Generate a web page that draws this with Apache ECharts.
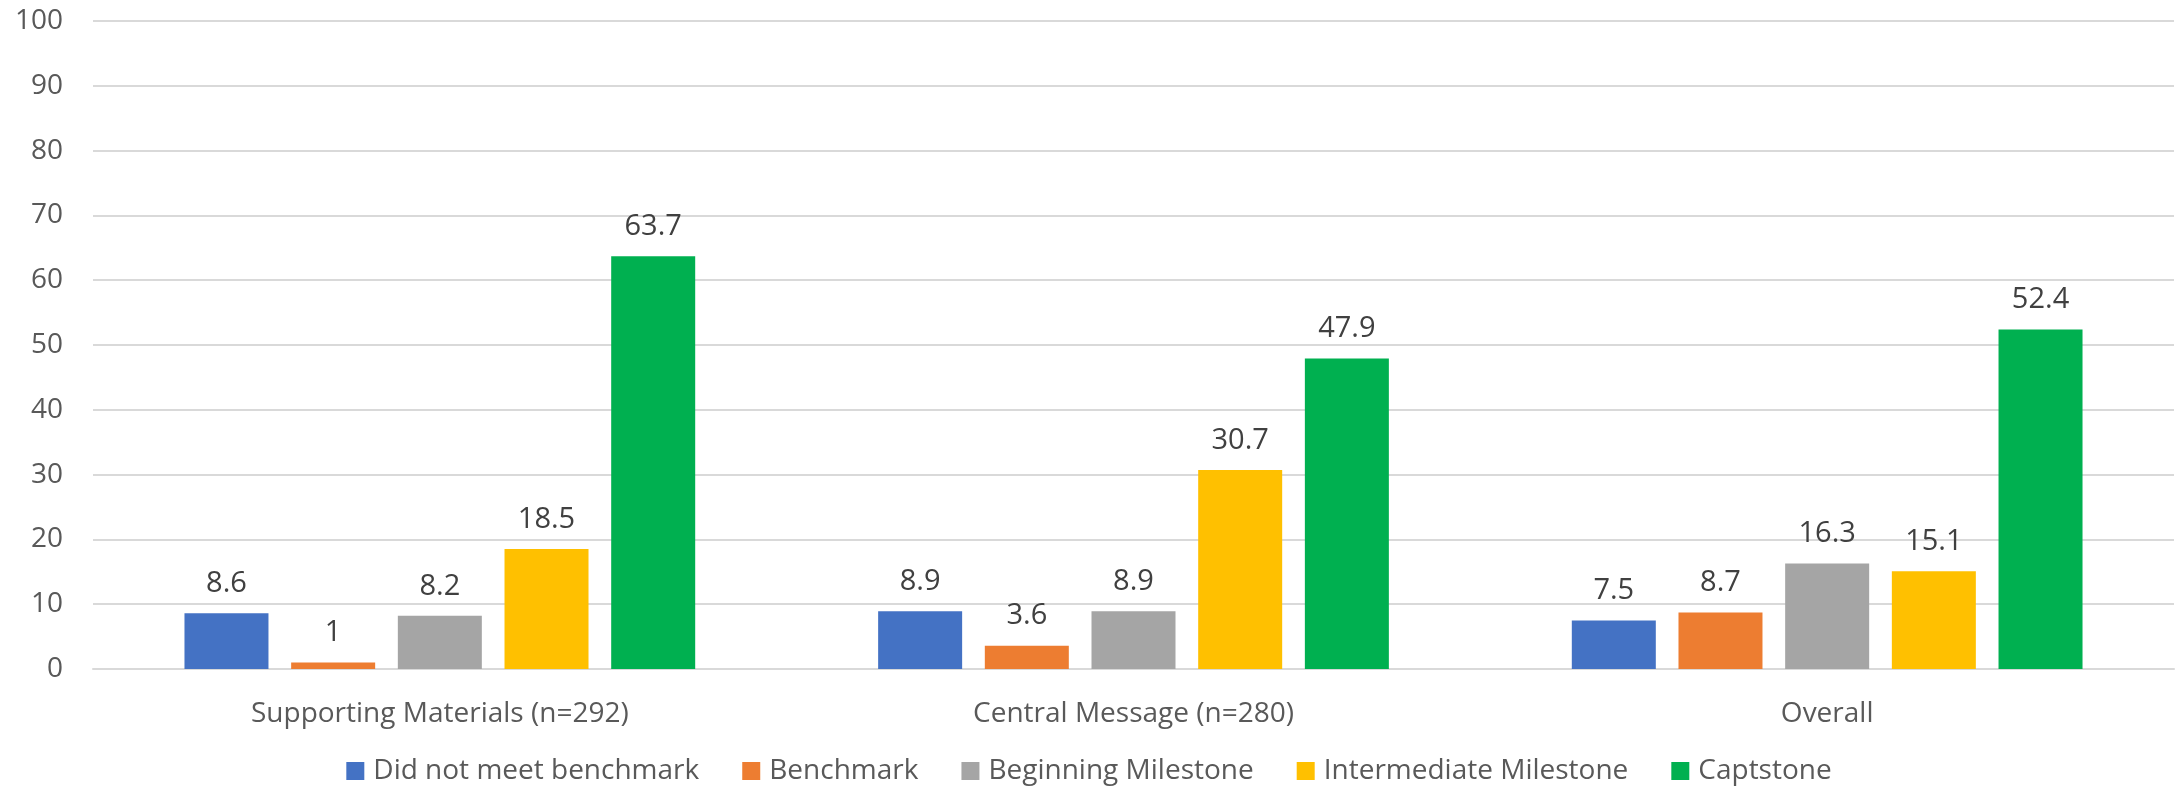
<!DOCTYPE html>
<html>
<head>
<meta charset="utf-8">
<script src="https://cdn.jsdelivr.net/npm/echarts@6/dist/echarts.min.js"></script>
<style>
  html, body { margin: 0; padding: 0; background: #fff; }
  #chart { width: 2178px; height: 790px; }
</style>
</head>
<body>
<div id="chart"></div>
<script>
const categories = ["Supporting Materials (n=292)", "Central Message (n=280)", "Overall"];
const seriesNames = ["Did not meet benchmark", "Benchmark", "Beginning Milestone", "Intermediate Milestone", "Captstone"];
const didNotMeet = [8.6, 8.9, 7.5];
const benchmark = [1, 3.6, 8.7];
const beginning = [8.2, 8.9, 16.3];
const intermediate = [18.5, 30.7, 15.1];
const captstone = [63.7, 47.9, 52.4];
const colors = ["#4472C4", "#ED7D31", "#A5A5A5", "#FFC000", "#00B050"];

const allValues = [didNotMeet, benchmark, beginning, intermediate, captstone];
const font = "'Open Sans', 'Noto Sans', sans-serif";

var myChart = echarts.init(document.getElementById("chart"));

var option = {
  animation: false,
  textStyle: { fontFamily: font },
  grid: { left: 93, right: 4, top: 21, bottom: 121, containLabel: false },
  legend: {
    bottom: 0,
    left: "center",
    itemWidth: 18,
    itemHeight: 18,
    itemGap: 43,
    icon: "rect",
    textStyle: { color: "#595959", fontSize: 28, fontFamily: font, padding: [0, 0, 0, 4] },
    data: seriesNames
  },
  xAxis: {
    type: "category",
    data: categories,
    axisLine: { show: true, lineStyle: { color: "#D9D9D9", width: 2 } },
    axisTick: { show: false },
    axisLabel: { color: "#595959", fontSize: 28, margin: 31, fontFamily: font }
  },
  yAxis: {
    type: "value",
    min: 0,
    max: 100,
    interval: 10,
    axisLine: { show: false },
    axisTick: { show: false },
    axisLabel: { color: "#595959", fontSize: 28, margin: 30, fontFamily: font },
    splitLine: { lineStyle: { color: "#D9D9D9", width: 2 } }
  },
  series: seriesNames.map(function (name, i) {
    return {
      name: name,
      type: "bar",
      data: allValues[i],
      barWidth: 84,
      barGap: "27%",
      itemStyle: { color: colors[i] },
      label: {
        show: true,
        position: "top",
        distance: 15,
        color: "#404040",
        fontSize: 29,
        fontFamily: font
      }
    };
  })
};

myChart.setOption(option);
</script>
</body>
</html>
